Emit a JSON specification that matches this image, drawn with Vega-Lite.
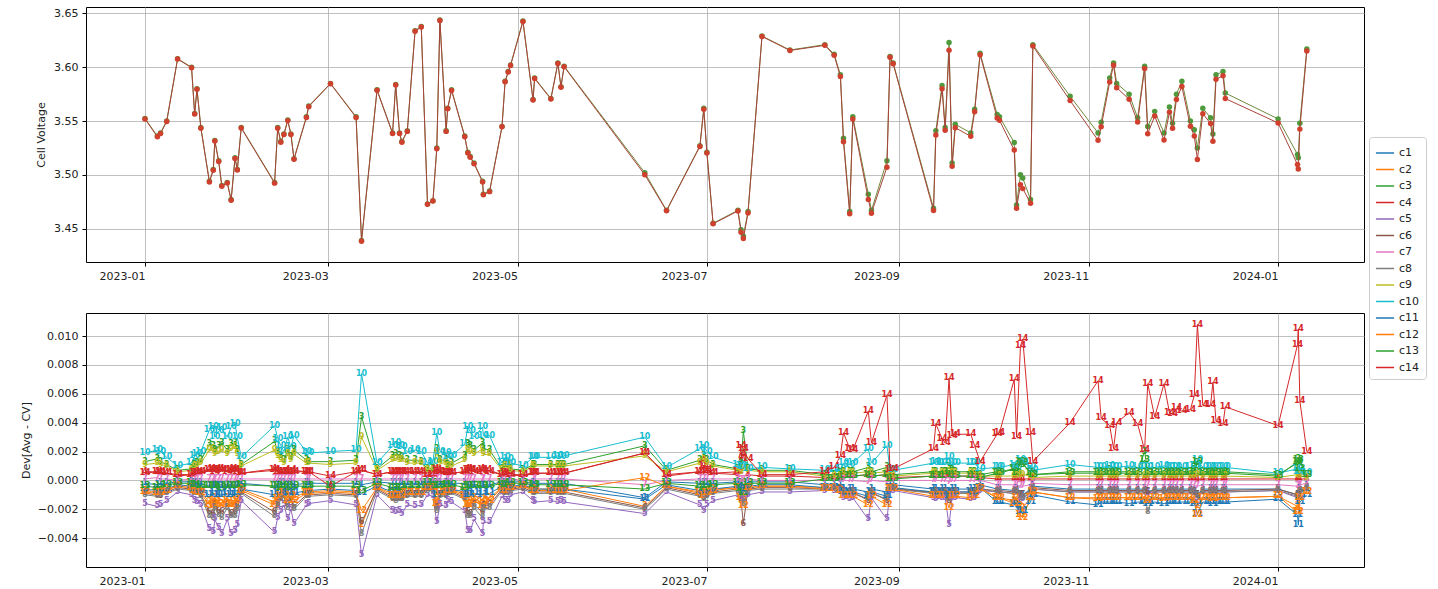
{
"$schema":"https://vega.github.io/schema/vega-lite/v6.json",
"padding":{"left":19,"top":6,"right":0,"bottom":0},
"spacing":30,
"config":{
"font":"DejaVu Sans",
"view":{"stroke":"#000","strokeWidth":1},
"axis":{"labelFont":"DejaVu Sans","labelFontSize":11,"labelColor":"#222","titleFont":"DejaVu Sans","titleFontSize":11,"titleFontWeight":"normal","titleColor":"#222","gridColor":"#b0b0b0","gridWidth":0.8,"domain":false,"tickColor":"#000","tickSize":4,"labelPadding":4},
"legend":{"labelFont":"DejaVu Sans","labelFontSize":11,"labelColor":"#222"}
},
"datasets":{"d":[
{"t":"2023-01-01","v":3.5524,"w":3.5519,"1":-0.0002,"2":-0.0007,"3":0.0013,"4":0.0006,"5":-0.0016,"6":-0.0009,"7":0.0001,"8":-0.001,"9":0.0011,"10":0.0019,"11":-0.0006,"12":-0.0008,"13":-0.0004,"14":0.0005},
{"t":"2023-01-05","v":3.536,"w":3.5354,"1":-0.0003,"2":-0.0008,"3":0.0015,"4":0.0006,"5":-0.0018,"6":-0.001,"7":0.0002,"8":-0.0011,"9":0.0012,"10":0.0021,"11":-0.0007,"12":-0.0009,"13":-0.0005,"14":0.0006},
{"t":"2023-01-06","v":3.539,"w":3.5384,"1":-0.0002,"2":-0.0008,"3":0.0013,"4":0.0005,"5":-0.0017,"6":-0.0011,"7":0.0001,"8":-0.001,"9":0.0011,"10":0.002,"11":-0.0006,"12":-0.0009,"13":-0.0004,"14":0.0006},
{"t":"2023-01-08","v":3.55,"w":3.5495,"1":-0.0002,"2":-0.0006,"3":0.0011,"4":0.0005,"5":-0.0014,"6":-0.0008,"7":0.0001,"8":-0.0009,"9":0.001,"10":0.0016,"11":-0.0006,"12":-0.0007,"13":-0.0003,"14":0.0005},
{"t":"2023-01-11T12:00","v":3.608,"w":3.6076,"1":-0.0001,"2":-0.0004,"3":0.0007,"4":0.0003,"5":-0.0008,"6":-0.0005,"7":0,"8":-0.0006,"9":0.0006,"10":0.001,"11":-0.0003,"12":-0.0004,"13":-0.0002,"14":0.0004},
{"t":"2023-01-16","v":3.6,"w":3.5996,"1":-0.0001,"2":-0.0005,"3":0.0008,"4":0.0004,"5":-0.001,"6":-0.0006,"7":0.0001,"8":-0.0007,"9":0.0007,"10":0.0012,"11":-0.0004,"12":-0.0005,"13":-0.0002,"14":0.0004},
{"t":"2023-01-17","v":3.557,"w":3.5565,"1":-0.0002,"2":-0.0006,"3":0.0011,"4":0.0005,"5":-0.0014,"6":-0.0008,"7":0.0001,"8":-0.0009,"9":0.001,"10":0.0017,"11":-0.0006,"12":-0.0007,"13":-0.0003,"14":0.0005},
{"t":"2023-01-17T18:00","v":3.58,"w":3.5795,"1":-0.0002,"2":-0.0007,"3":0.0012,"4":0.0005,"5":-0.0015,"6":-0.0008,"7":0.0001,"8":-0.0009,"9":0.001,"10":0.0018,"11":-0.0006,"12":-0.0008,"13":-0.0003,"14":0.0005},
{"t":"2023-01-19","v":3.544,"w":3.5434,"1":-0.0002,"2":-0.0008,"3":0.0014,"4":0.0006,"5":-0.0017,"6":-0.001,"7":0.0001,"8":-0.0011,"9":0.0012,"10":0.002,"11":-0.0007,"12":-0.0009,"13":-0.0004,"14":0.0006},
{"t":"2023-01-21T18:00","v":3.494,"w":3.4933,"1":-0.0004,"2":-0.0015,"3":0.0025,"4":0.0008,"5":-0.0034,"6":-0.0022,"7":0.0001,"8":-0.0025,"9":0.0021,"10":0.0035,"11":-0.001,"12":-0.0017,"13":-0.0004,"14":0.0007},
{"t":"2023-01-23","v":3.505,"w":3.5043,"1":-0.0004,"2":-0.0016,"3":0.0024,"4":0.0008,"5":-0.0036,"6":-0.0023,"7":0.0001,"8":-0.0026,"9":0.0022,"10":0.0037,"11":-0.001,"12":-0.0018,"13":-0.0004,"14":0.0007},
{"t":"2023-01-23T12:00","v":3.532,"w":3.5314,"1":-0.0003,"2":-0.0012,"3":0.0021,"4":0.0007,"5":-0.0027,"6":-0.0017,"7":0.0001,"8":-0.0019,"9":0.0018,"10":0.003,"11":-0.0009,"12":-0.0014,"13":-0.0004,"14":0.0006},
{"t":"2023-01-24T18:00","v":3.513,"w":3.5123,"1":-0.0004,"2":-0.0015,"3":0.0024,"4":0.0008,"5":-0.0033,"6":-0.0021,"7":0.0001,"8":-0.0024,"9":0.002,"10":0.0034,"11":-0.001,"12":-0.0016,"13":-0.0004,"14":0.0007},
{"t":"2023-01-25T18:00","v":3.49,"w":3.4893,"1":-0.0004,"2":-0.0016,"3":0.0026,"4":0.0008,"5":-0.0037,"6":-0.0022,"7":0.0001,"8":-0.0026,"9":0.0021,"10":0.0036,"11":-0.001,"12":-0.0017,"13":-0.0005,"14":0.0007},
{"t":"2023-01-27T12:00","v":3.493,"w":3.4924,"1":-0.0003,"2":-0.0012,"3":0.0021,"4":0.0007,"5":-0.0027,"6":-0.0017,"7":0.0001,"8":-0.0019,"9":0.0018,"10":0.003,"11":-0.0009,"12":-0.0014,"13":-0.0004,"14":0.0006},
{"t":"2023-01-28T18:00","v":3.477,"w":3.4763,"1":-0.0004,"2":-0.0016,"3":0.0025,"4":0.0008,"5":-0.0037,"6":-0.0023,"7":0.0001,"8":-0.0025,"9":0.0022,"10":0.0037,"11":-0.001,"12":-0.0017,"13":-0.0004,"14":0.0007},
{"t":"2023-01-30","v":3.516,"w":3.5153,"1":-0.0004,"2":-0.0015,"3":0.0026,"4":0.0008,"5":-0.0035,"6":-0.0022,"7":0.0001,"8":-0.0025,"9":0.0023,"10":0.0039,"11":-0.001,"12":-0.0017,"13":-0.0004,"14":0.0007},
{"t":"2023-01-30T18:00","v":3.505,"w":3.5044,"1":-0.0003,"2":-0.0013,"3":0.0021,"4":0.0007,"5":-0.0031,"6":-0.0018,"7":0.0001,"8":-0.002,"9":0.0018,"10":0.003,"11":-0.0009,"12":-0.0014,"13":-0.0004,"14":0.0006},
{"t":"2023-02-01","v":3.544,"w":3.5435,"1":-0.0002,"2":-0.0006,"3":0.0011,"4":0.0005,"5":-0.0014,"6":-0.0008,"7":0.0001,"8":-0.0009,"9":0.001,"10":0.0016,"11":-0.0006,"12":-0.0007,"13":-0.0003,"14":0.0005},
{"t":"2023-02-11T18:00","v":3.493,"w":3.4923,"1":-0.0004,"2":-0.0015,"3":0.0027,"4":0.0008,"5":-0.0036,"6":-0.0022,"7":0.0001,"8":-0.0025,"9":0.0021,"10":0.0038,"11":-0.001,"12":-0.0017,"13":-0.0004,"14":0.0007},
{"t":"2023-02-12T18:00","v":3.544,"w":3.5434,"1":-0.0003,"2":-0.0012,"3":0.002,"4":0.0007,"5":-0.0026,"6":-0.0016,"7":0.0001,"8":-0.0018,"9":0.0017,"10":0.0029,"11":-0.0009,"12":-0.0013,"13":-0.0004,"14":0.0006},
{"t":"2023-02-13T18:00","v":3.531,"w":3.5304,"1":-0.0002,"2":-0.0009,"3":0.0017,"4":0.0006,"5":-0.0021,"6":-0.0012,"7":0.0001,"8":-0.0013,"9":0.0014,"10":0.0024,"11":-0.0008,"12":-0.0011,"13":-0.0005,"14":0.0006},
{"t":"2023-02-14T18:00","v":3.538,"w":3.5374,"1":-0.0002,"2":-0.0008,"3":0.0014,"4":0.0006,"5":-0.0017,"6":-0.001,"7":0.0001,"8":-0.0011,"9":0.0012,"10":0.002,"11":-0.0007,"12":-0.0009,"13":-0.0004,"14":0.0006},
{"t":"2023-02-16","v":3.551,"w":3.5504,"1":-0.0003,"2":-0.0012,"3":0.0021,"4":0.0007,"5":-0.0027,"6":-0.0017,"7":0.0001,"8":-0.0019,"9":0.0018,"10":0.003,"11":-0.0009,"12":-0.0014,"13":-0.0004,"14":0.0006},
{"t":"2023-02-17","v":3.538,"w":3.5374,"1":-0.0002,"2":-0.0009,"3":0.0016,"4":0.0006,"5":-0.002,"6":-0.0012,"7":0.0001,"8":-0.0013,"9":0.0014,"10":0.0023,"11":-0.0008,"12":-0.0011,"13":-0.0005,"14":0.0006},
{"t":"2023-02-18","v":3.515,"w":3.5144,"1":-0.0003,"2":-0.0012,"3":0.0021,"4":0.0007,"5":-0.003,"6":-0.0018,"7":0.0001,"8":-0.002,"9":0.0018,"10":0.0031,"11":-0.0009,"12":-0.0014,"13":-0.0004,"14":0.0006},
{"t":"2023-02-22","v":3.554,"w":3.5534,"1":-0.0002,"2":-0.0008,"3":0.0014,"4":0.0006,"5":-0.0017,"6":-0.001,"7":0.0001,"8":-0.0011,"9":0.0012,"10":0.002,"11":-0.0007,"12":-0.0009,"13":-0.0004,"14":0.0006},
{"t":"2023-02-22T18:00","v":3.564,"w":3.5634,"1":-0.0002,"2":-0.0008,"3":0.0013,"4":0.0006,"5":-0.0016,"6":-0.001,"7":0.0001,"8":-0.0011,"9":0.0012,"10":0.0019,"11":-0.0007,"12":-0.0009,"13":-0.0004,"14":0.0006},
{"t":"2023-03-01T18:00","v":3.585,"w":3.5847,"1":-0.0002,"2":-0.0007,"3":0.0013,"4":-0.0004,"5":-0.0014,"6":-0.0009,"7":0.0001,"8":-0.001,"9":0.0011,"10":0.002,"11":-0.0006,"12":-0.0008,"13":-0.0004,"14":0.0003},
{"t":"2023-03-10","v":3.554,"w":3.5534,"1":-0.0002,"2":-0.0008,"3":0.0014,"4":0.0006,"5":-0.0017,"6":-0.001,"7":0.0001,"8":-0.0011,"9":0.0012,"10":0.0021,"11":-0.0007,"12":-0.0009,"13":-0.0004,"14":0.0006},
{"t":"2023-03-11T18:00","v":3.439,"w":3.4383,"1":-0.0003,"2":-0.0031,"3":0.0044,"4":0.0007,"5":-0.0052,"6":-0.0029,"7":0.0001,"8":-0.0037,"9":0.003,"10":0.0074,"11":-0.0009,"12":-0.0021,"13":-0.0007,"14":0.0007},
{"t":"2023-03-16T18:00","v":3.579,"w":3.5786,"1":-0.0001,"2":-0.0005,"3":0.0008,"4":0.0004,"5":-0.001,"6":-0.0006,"7":0.0001,"8":-0.0007,"9":0.0007,"10":0.0012,"11":-0.0004,"12":-0.0005,"13":-0.0002,"14":0.0004},
{"t":"2023-03-21T18:00","v":3.539,"w":3.5384,"1":-0.0002,"2":-0.0009,"3":0.0017,"4":0.0006,"5":-0.0021,"6":-0.0012,"7":0.0001,"8":-0.0013,"9":0.0014,"10":0.0024,"11":-0.0008,"12":-0.0011,"13":-0.0005,"14":0.0006},
{"t":"2023-03-22T18:00","v":3.584,"w":3.5834,"1":-0.0002,"2":-0.001,"3":0.0018,"4":0.0006,"5":-0.0022,"6":-0.0013,"7":0.0001,"8":-0.0014,"9":0.0015,"10":0.0026,"11":-0.0008,"12":-0.0011,"13":-0.0005,"14":0.0006},
{"t":"2023-03-24","v":3.539,"w":3.5384,"1":-0.0002,"2":-0.0009,"3":0.0017,"4":0.0006,"5":-0.0021,"6":-0.0012,"7":0.0001,"8":-0.0013,"9":0.0014,"10":0.0024,"11":-0.0008,"12":-0.0011,"13":-0.0005,"14":0.0006},
{"t":"2023-03-24T18:00","v":3.531,"w":3.5304,"1":-0.0002,"2":-0.0009,"3":0.0016,"4":0.0006,"5":-0.0023,"6":-0.0013,"7":0.0001,"8":-0.0013,"9":0.0014,"10":0.0023,"11":-0.0008,"12":-0.0011,"13":-0.0005,"14":0.0006},
{"t":"2023-03-26T12:00","v":3.541,"w":3.5404,"1":-0.0002,"2":-0.0008,"3":0.0014,"4":0.0006,"5":-0.0017,"6":-0.001,"7":0.0001,"8":-0.0011,"9":0.0012,"10":0.002,"11":-0.0007,"12":-0.0009,"13":-0.0004,"14":0.0006},
{"t":"2023-03-29","v":3.634,"w":3.6334,"1":-0.0002,"2":-0.0008,"3":0.0014,"4":0.0006,"5":-0.0018,"6":-0.001,"7":0.0001,"8":-0.0011,"9":0.0012,"10":0.0021,"11":-0.0007,"12":-0.0009,"13":-0.0004,"14":0.0006},
{"t":"2023-03-31","v":3.638,"w":3.6374,"1":-0.0002,"2":-0.0008,"3":0.0013,"4":0.0006,"5":-0.0017,"6":-0.001,"7":0.0001,"8":-0.0011,"9":0.0012,"10":0.002,"11":-0.0007,"12":-0.0009,"13":-0.0004,"14":0.0006},
{"t":"2023-04-02","v":3.473,"w":3.4726,"1":-0.0001,"2":-0.0005,"3":0.0008,"4":0.0004,"5":-0.001,"6":-0.0006,"7":0.0001,"8":-0.0007,"9":0.0007,"10":0.0012,"11":-0.0004,"12":-0.0005,"13":-0.0002,"14":0.0004},
{"t":"2023-04-03T18:00","v":3.476,"w":3.4756,"1":-0.0001,"2":-0.0005,"3":0.0008,"4":0.0004,"5":-0.0011,"6":-0.0006,"7":0.0001,"8":-0.0007,"9":0.0007,"10":0.0013,"11":-0.0004,"12":-0.0005,"13":-0.0002,"14":0.0004},
{"t":"2023-04-05","v":3.525,"w":3.5243,"1":-0.0003,"2":-0.0014,"3":0.0022,"4":0.0008,"5":-0.0029,"6":-0.0019,"7":0.0001,"8":-0.0021,"9":0.002,"10":0.0033,"11":-0.001,"12":-0.0016,"13":-0.0004,"14":0.0007},
{"t":"2023-04-06","v":3.644,"w":3.6434,"1":-0.0002,"2":-0.0008,"3":0.0014,"4":0.0006,"5":-0.0017,"6":-0.001,"7":0.0001,"8":-0.0011,"9":0.0012,"10":0.002,"11":-0.0007,"12":-0.0009,"13":-0.0004,"14":0.0006},
{"t":"2023-04-08","v":3.541,"w":3.5404,"1":-0.0002,"2":-0.0008,"3":0.0014,"4":0.0006,"5":-0.0018,"6":-0.001,"7":0.0001,"8":-0.0011,"9":0.0012,"10":0.0019,"11":-0.0007,"12":-0.0009,"13":-0.0004,"14":0.0006},
{"t":"2023-04-08T12:00","v":3.562,"w":3.5615,"1":-0.0002,"2":-0.0006,"3":0.0011,"4":0.0005,"5":-0.0014,"6":-0.0008,"7":0.0001,"8":-0.0009,"9":0.001,"10":0.0016,"11":-0.0006,"12":-0.0007,"13":-0.0003,"14":0.0005},
{"t":"2023-04-09T18:00","v":3.579,"w":3.5785,"1":-0.0002,"2":-0.0007,"3":0.0012,"4":0.0005,"5":-0.0015,"6":-0.0008,"7":0.0001,"8":-0.0009,"9":0.001,"10":0.0017,"11":-0.0006,"12":-0.0007,"13":-0.0003,"14":0.0005},
{"t":"2023-04-14","v":3.536,"w":3.5354,"1":-0.0002,"2":-0.0009,"3":0.0017,"4":0.0006,"5":-0.0021,"6":-0.0012,"7":0.0001,"8":-0.0013,"9":0.0014,"10":0.0025,"11":-0.0008,"12":-0.0011,"13":-0.0005,"14":0.0006},
{"t":"2023-04-15","v":3.521,"w":3.5203,"1":-0.0004,"2":-0.0015,"3":0.0025,"4":0.0008,"5":-0.0035,"6":-0.0022,"7":0.0001,"8":-0.0025,"9":0.0021,"10":0.0037,"11":-0.001,"12":-0.0017,"13":-0.0004,"14":0.0007},
{"t":"2023-04-15T18:00","v":3.517,"w":3.5163,"1":-0.0004,"2":-0.0016,"3":0.0024,"4":0.0008,"5":-0.0035,"6":-0.0023,"7":0.0001,"8":-0.0025,"9":0.002,"10":0.0034,"11":-0.001,"12":-0.0017,"13":-0.0004,"14":0.0007},
{"t":"2023-04-17","v":3.511,"w":3.5104,"1":-0.0003,"2":-0.0012,"3":0.0021,"4":0.0007,"5":-0.0027,"6":-0.0017,"7":0.0001,"8":-0.0019,"9":0.0018,"10":0.003,"11":-0.0009,"12":-0.0014,"13":-0.0004,"14":0.0006},
{"t":"2023-04-19T18:00","v":3.494,"w":3.4933,"1":-0.0004,"2":-0.0016,"3":0.0026,"4":0.0008,"5":-0.0037,"6":-0.0022,"7":0.0001,"8":-0.0026,"9":0.0022,"10":0.0037,"11":-0.001,"12":-0.0018,"13":-0.0004,"14":0.0007},
{"t":"2023-04-20","v":3.482,"w":3.4814,"1":-0.0003,"2":-0.0013,"3":0.0022,"4":0.0007,"5":-0.0029,"6":-0.0018,"7":0.0001,"8":-0.002,"9":0.0018,"10":0.0031,"11":-0.0009,"12":-0.0015,"13":-0.0004,"14":0.0006},
{"t":"2023-04-22","v":3.485,"w":3.4844,"1":-0.0003,"2":-0.0012,"3":0.0021,"4":0.0007,"5":-0.0029,"6":-0.0017,"7":0.0001,"8":-0.0019,"9":0.0018,"10":0.0031,"11":-0.0009,"12":-0.0014,"13":-0.0004,"14":0.0006},
{"t":"2023-04-26","v":3.545,"w":3.5446,"1":-0.0001,"2":-0.0005,"3":0.0008,"4":0.0004,"5":-0.0011,"6":-0.0006,"7":0.0001,"8":-0.0007,"9":0.0007,"10":0.0012,"11":-0.0004,"12":-0.0005,"13":-0.0002,"14":0.0004},
{"t":"2023-04-27","v":3.587,"w":3.5865,"1":-0.0002,"2":-0.0006,"3":0.0011,"4":0.0005,"5":-0.0014,"6":-0.0008,"7":0.0001,"8":-0.0009,"9":0.001,"10":0.0016,"11":-0.0006,"12":-0.0007,"13":-0.0003,"14":0.0005},
{"t":"2023-04-28","v":3.596,"w":3.5955,"1":-0.0002,"2":-0.0006,"3":0.0011,"4":0.0005,"5":-0.0014,"6":-0.0008,"7":0.0001,"8":-0.0009,"9":0.001,"10":0.0015,"11":-0.0006,"12":-0.0007,"13":-0.0003,"14":0.0005},
{"t":"2023-04-28T18:00","v":3.602,"w":3.6016,"1":-0.0001,"2":-0.0005,"3":0.0008,"4":0.0004,"5":-0.001,"6":-0.0006,"7":0.0001,"8":-0.0007,"9":0.0007,"10":0.0012,"11":-0.0004,"12":-0.0005,"13":-0.0002,"14":0.0004},
{"t":"2023-05-02T18:00","v":3.643,"w":3.6426,"1":-0.0001,"2":-0.0004,"3":0.0007,"4":0.0003,"5":-0.0008,"6":-0.0005,"7":0,"8":-0.0006,"9":0.0006,"10":0.001,"11":-0.0003,"12":-0.0004,"13":-0.0002,"14":0.0004},
{"t":"2023-05-06","v":3.57,"w":3.5695,"1":-0.0002,"2":-0.0006,"3":0.0011,"4":0.0005,"5":-0.0014,"6":-0.0008,"7":0.0001,"8":-0.0009,"9":0.001,"10":0.0016,"11":-0.0006,"12":-0.0007,"13":-0.0003,"14":0.0005},
{"t":"2023-05-06T12:00","v":3.59,"w":3.5895,"1":-0.0002,"2":-0.0006,"3":0.0011,"4":0.0005,"5":-0.0015,"6":-0.0008,"7":0.0001,"8":-0.0009,"9":0.001,"10":0.0016,"11":-0.0006,"12":-0.0007,"13":-0.0003,"14":0.0005},
{"t":"2023-05-11T18:00","v":3.571,"w":3.5705,"1":-0.0002,"2":-0.0006,"3":0.0011,"4":0.0005,"5":-0.0014,"6":-0.0008,"7":0.0001,"8":-0.0009,"9":0.001,"10":0.0016,"11":-0.0006,"12":-0.0007,"13":-0.0003,"14":0.0005},
{"t":"2023-05-14","v":3.604,"w":3.6035,"1":-0.0002,"2":-0.0006,"3":0.0011,"4":0.0005,"5":-0.0015,"6":-0.0008,"7":0.0001,"8":-0.0009,"9":0.001,"10":0.0017,"11":-0.0006,"12":-0.0007,"13":-0.0003,"14":0.0005},
{"t":"2023-05-15","v":3.582,"w":3.5815,"1":-0.0002,"2":-0.0006,"3":0.0011,"4":0.0005,"5":-0.0014,"6":-0.0008,"7":0.0001,"8":-0.0009,"9":0.001,"10":0.0016,"11":-0.0006,"12":-0.0007,"13":-0.0003,"14":0.0005},
{"t":"2023-05-16","v":3.601,"w":3.6005,"1":-0.0002,"2":-0.0006,"3":0.0011,"4":0.0005,"5":-0.0015,"6":-0.0008,"7":0.0001,"8":-0.0009,"9":0.001,"10":0.0017,"11":-0.0006,"12":-0.0007,"13":-0.0003,"14":0.0005},
{"t":"2023-06-11","v":3.502,"w":3.5001,"1":-0.0012,"2":-0.0018,"3":0.0024,"4":0.0019,"5":-0.0023,"6":-0.0019,"7":-0.0003,"8":-0.002,"9":0.0017,"10":0.003,"11":-0.0013,"12":0.0002,"13":-0.0006,"14":0.0019},
{"t":"2023-06-18","v":3.467,"w":3.4666,"1":-0.0001,"2":-0.0004,"3":0.0007,"4":0.0003,"5":-0.0008,"6":-0.0005,"7":0,"8":-0.0006,"9":0.0006,"10":0.0009,"11":-0.0003,"12":-0.0004,"13":-0.0002,"14":0.0004},
{"t":"2023-06-28T18:00","v":3.527,"w":3.5264,"1":-0.0002,"2":-0.0008,"3":0.0014,"4":0.0006,"5":-0.0017,"6":-0.001,"7":0.0001,"8":-0.0011,"9":0.0012,"10":0.0022,"11":-0.0007,"12":-0.0009,"13":-0.0004,"14":0.0006},
{"t":"2023-06-30","v":3.562,"w":3.561,"1":-0.0002,"2":-0.0009,"3":0.0017,"4":0.0014,"5":-0.0021,"6":-0.0012,"7":0.0001,"8":-0.0013,"9":0.0014,"10":0.0024,"11":-0.0008,"12":-0.0011,"13":-0.0005,"14":0.001},
{"t":"2023-07-01","v":3.521,"w":3.5203,"1":-0.0002,"2":-0.0008,"3":0.0014,"4":0.0006,"5":-0.0017,"6":-0.001,"7":0.0001,"8":-0.0011,"9":0.0012,"10":0.002,"11":-0.0007,"12":-0.0009,"13":-0.0004,"14":0.0007},
{"t":"2023-07-03","v":3.455,"w":3.4545,"1":-0.0002,"2":-0.0006,"3":0.0011,"4":0.0005,"5":-0.0014,"6":-0.0008,"7":0.0001,"8":-0.0009,"9":0.001,"10":0.0016,"11":-0.0006,"12":-0.0007,"13":-0.0003,"14":0.0005},
{"t":"2023-07-11","v":3.467,"w":3.4664,"1":-0.0001,"2":-0.0005,"3":0.0008,"4":0.0004,"5":-0.001,"6":-0.0006,"7":0.0001,"8":-0.0007,"9":0.0007,"10":0.0011,"11":-0.0004,"12":-0.0005,"13":-0.0002,"14":0.0006},
{"t":"2023-07-12","v":3.449,"w":3.4466,"1":-0.0005,"2":-0.0009,"3":0.0012,"4":0.0016,"5":-0.0011,"6":-0.0014,"7":0,"8":-0.001,"9":0.0006,"10":0.001,"11":-0.0006,"12":-0.0012,"13":-0.0006,"14":0.0024},
{"t":"2023-07-12T18:00","v":3.443,"w":3.4408,"1":-0.0006,"2":-0.0012,"3":0.0034,"4":0.0018,"5":-0.0014,"6":-0.003,"7":0,"8":-0.0016,"9":0.0008,"10":0.0009,"11":-0.0008,"12":-0.0018,"13":-0.0009,"14":0.0022},
{"t":"2023-07-14T06:00","v":3.466,"w":3.4645,"1":-0.0001,"2":-0.0005,"3":0.0008,"4":0.0004,"5":-0.001,"6":-0.0006,"7":0.0001,"8":-0.0007,"9":0.0007,"10":0.0008,"11":-0.0004,"12":-0.0005,"13":-0.0002,"14":0.0015},
{"t":"2023-07-18T18:00","v":3.629,"w":3.6286,"1":-0.0001,"2":-0.0004,"3":0.0007,"4":0.0003,"5":-0.0008,"6":-0.0005,"7":0,"8":-0.0006,"9":0.0006,"10":0.0009,"11":-0.0003,"12":-0.0004,"13":-0.0002,"14":0.0004},
{"t":"2023-07-27T18:00","v":3.616,"w":3.6156,"1":-0.0001,"2":-0.0004,"3":0.0007,"4":0.0003,"5":-0.0008,"6":-0.0005,"7":0,"8":-0.0006,"9":0.0006,"10":0.0008,"11":-0.0003,"12":-0.0004,"13":-0.0002,"14":0.0004},
{"t":"2023-08-08","v":3.621,"w":3.6204,"1":-0.0003,"2":-0.0005,"3":0.0004,"4":0.0002,"5":-0.0007,"6":-0.0006,"7":0,"8":-0.0006,"9":0.0003,"10":0.0007,"11":-0.0005,"12":-0.0006,"13":0.0001,"14":0.0006},
{"t":"2023-08-11","v":3.612,"w":3.6111,"1":-0.0003,"2":-0.0005,"3":0.0004,"4":0.0002,"5":-0.0007,"6":-0.0006,"7":0,"8":-0.0006,"9":0.0003,"10":0.0007,"11":-0.0005,"12":-0.0006,"13":0.0001,"14":0.0009},
{"t":"2023-08-13","v":3.593,"w":3.5913,"1":-0.0003,"2":-0.0006,"3":0.0005,"4":0.0002,"5":-0.0008,"6":-0.0006,"7":0,"8":-0.0007,"9":0.0003,"10":0.0008,"11":-0.0006,"12":-0.0007,"13":0.0002,"14":0.0017},
{"t":"2023-08-14","v":3.534,"w":3.5307,"1":-0.0006,"2":-0.0009,"3":0.0006,"4":0.0003,"5":-0.0012,"6":-0.0008,"7":0,"8":-0.0009,"9":0.0005,"10":0.0012,"11":-0.0008,"12":-0.0011,"13":0.0003,"14":0.0033},
{"t":"2023-08-16","v":3.466,"w":3.4638,"1":-0.0006,"2":-0.0009,"3":0.0006,"4":0.0003,"5":-0.0013,"6":-0.0008,"7":0,"8":-0.0009,"9":0.0005,"10":0.0011,"11":-0.0009,"12":-0.0011,"13":0.0003,"14":0.0022},
{"t":"2023-08-17","v":3.554,"w":3.5519,"1":-0.0006,"2":-0.0009,"3":0.0006,"4":0.0003,"5":-0.0012,"6":-0.0008,"7":0,"8":-0.0009,"9":0.0005,"10":0.0012,"11":-0.0008,"12":-0.0011,"13":0.0003,"14":0.0021},
{"t":"2023-08-22","v":3.482,"w":3.4772,"1":-0.0008,"2":-0.0013,"3":0.0009,"4":0.0004,"5":-0.0027,"6":-0.0014,"7":-0.0001,"8":-0.0013,"9":0.0006,"10":0.0022,"11":-0.0011,"12":-0.0017,"13":0.0004,"14":0.0048},
{"t":"2023-08-23","v":3.467,"w":3.4644,"1":-0.0006,"2":-0.0009,"3":0.0006,"4":0.0003,"5":-0.0012,"6":-0.0008,"7":0,"8":-0.0009,"9":0.0005,"10":0.0012,"11":-0.0008,"12":-0.0011,"13":0.0003,"14":0.0026},
{"t":"2023-08-28","v":3.513,"w":3.5071,"1":-0.0008,"2":-0.0013,"3":0.0009,"4":0.0004,"5":-0.0027,"6":-0.0014,"7":-0.0001,"8":-0.0013,"9":0.0006,"10":0.0024,"11":-0.0011,"12":-0.0017,"13":0.0004,"14":0.0059},
{"t":"2023-08-29","v":3.61,"w":3.6093,"1":-0.0003,"2":-0.0005,"3":0.0004,"4":0.0002,"5":-0.0007,"6":-0.0006,"7":0,"8":-0.0006,"9":0.0003,"10":0.0007,"11":-0.0005,"12":-0.0006,"13":0.0001,"14":0.0007},
{"t":"2023-08-30","v":3.604,"w":3.6032,"1":-0.0003,"2":-0.0005,"3":0.0004,"4":0.0002,"5":-0.0007,"6":-0.0006,"7":0,"8":-0.0006,"9":0.0003,"10":0.0007,"11":-0.0005,"12":-0.0006,"13":0.0001,"14":0.0008},
{"t":"2023-09-12","v":3.469,"w":3.4668,"1":-0.0006,"2":-0.0009,"3":0.0006,"4":0.0003,"5":-0.0012,"6":-0.0008,"7":0,"8":-0.0009,"9":0.0005,"10":0.0012,"11":-0.0008,"12":-0.0011,"13":0.0003,"14":0.0022},
{"t":"2023-09-12T18:00","v":3.541,"w":3.5371,"1":-0.0006,"2":-0.0009,"3":0.0006,"4":0.0003,"5":-0.0013,"6":-0.0008,"7":0,"8":-0.0009,"9":0.0005,"10":0.0013,"11":-0.0008,"12":-0.0011,"13":0.0003,"14":0.0039},
{"t":"2023-09-14T18:00","v":3.583,"w":3.5801,"1":-0.0006,"2":-0.0009,"3":0.0006,"4":0.0003,"5":-0.0012,"6":-0.0008,"7":0,"8":-0.0009,"9":0.0005,"10":0.0012,"11":-0.0008,"12":-0.0011,"13":0.0003,"14":0.0029},
{"t":"2023-09-15T18:00","v":3.544,"w":3.5414,"1":-0.0006,"2":-0.0009,"3":0.0006,"4":0.0003,"5":-0.0012,"6":-0.0008,"7":0,"8":-0.0009,"9":0.0005,"10":0.0012,"11":-0.0008,"12":-0.0011,"13":0.0003,"14":0.0026},
{"t":"2023-09-17","v":3.623,"w":3.6159,"1":-0.0008,"2":-0.0013,"3":0.0009,"4":0.0004,"5":-0.0031,"6":-0.0014,"7":-0.0001,"8":-0.0013,"9":0.0006,"10":0.0016,"11":-0.0011,"12":-0.0019,"13":0.0006,"14":0.0071},
{"t":"2023-09-18","v":3.511,"w":3.5079,"1":-0.0006,"2":-0.0009,"3":0.0007,"4":0.0003,"5":-0.0012,"6":-0.0008,"7":0,"8":-0.0009,"9":0.0005,"10":0.0012,"11":-0.0008,"12":-0.0011,"13":0.0004,"14":0.0031},
{"t":"2023-09-19","v":3.547,"w":3.5438,"1":-0.0006,"2":-0.0009,"3":0.0006,"4":0.0003,"5":-0.0012,"6":-0.0008,"7":0,"8":-0.0009,"9":0.0005,"10":0.0012,"11":-0.0008,"12":-0.0011,"13":0.0003,"14":0.0032},
{"t":"2023-09-24","v":3.539,"w":3.5358,"1":-0.0006,"2":-0.0009,"3":0.0006,"4":0.0003,"5":-0.0013,"6":-0.0008,"7":0,"8":-0.0009,"9":0.0005,"10":0.0012,"11":-0.0008,"12":-0.0012,"13":0.0003,"14":0.0032},
{"t":"2023-09-25T06:00","v":3.561,"w":3.5586,"1":-0.0006,"2":-0.0009,"3":0.0006,"4":0.0003,"5":-0.0012,"6":-0.0008,"7":0,"8":-0.0009,"9":0.0005,"10":0.0012,"11":-0.0008,"12":-0.0011,"13":0.0003,"14":0.0024},
{"t":"2023-09-27","v":3.613,"w":3.6117,"1":-0.0003,"2":-0.0005,"3":0.0004,"4":0.0002,"5":-0.0007,"6":-0.0006,"7":0,"8":-0.0006,"9":0.0003,"10":0.0008,"11":-0.0005,"12":-0.0006,"13":0.0002,"14":0.0013},
{"t":"2023-10-02T12:00","v":3.556,"w":3.5528,"1":-0.0006,"2":-0.0012,"3":0.0006,"4":0.0001,"5":-0.0008,"6":-0.0007,"7":-0.0003,"8":-0.0008,"9":0.0003,"10":0.0009,"11":-0.0015,"12":-0.0012,"13":0.0005,"14":0.0032},
{"t":"2023-10-03T06:00","v":3.554,"w":3.5507,"1":-0.0006,"2":-0.0012,"3":0.0006,"4":0.0001,"5":-0.0008,"6":-0.0007,"7":-0.0003,"8":-0.0008,"9":0.0003,"10":0.0009,"11":-0.0015,"12":-0.0012,"13":0.0005,"14":0.0033},
{"t":"2023-10-08","v":3.53,"w":3.523,"1":-0.0007,"2":-0.0014,"3":0.0008,"4":0.0001,"5":-0.0009,"6":-0.0008,"7":-0.0003,"8":-0.0009,"9":0.0003,"10":0.0011,"11":-0.0017,"12":-0.0016,"13":0.0008,"14":0.007},
{"t":"2023-10-08T18:00","v":3.472,"w":3.469,"1":-0.0006,"2":-0.0012,"3":0.0006,"4":0.0001,"5":-0.0008,"6":-0.0007,"7":-0.0003,"8":-0.0008,"9":0.0003,"10":0.0009,"11":-0.0015,"12":-0.0012,"13":0.0005,"14":0.003},
{"t":"2023-10-10","v":3.5,"w":3.4907,"1":-0.001,"2":-0.0018,"3":0.0012,"4":0.0001,"5":-0.0012,"6":-0.001,"7":-0.0004,"8":-0.0011,"9":0.0004,"10":0.0014,"11":-0.0022,"12":-0.0024,"13":0.0013,"14":0.0093},
{"t":"2023-10-10T18:00","v":3.497,"w":3.4872,"1":-0.001,"2":-0.0019,"3":0.0011,"4":0.0001,"5":-0.0013,"6":-0.001,"7":-0.0004,"8":-0.0012,"9":0.0004,"10":0.0013,"11":-0.0021,"12":-0.0026,"13":0.0012,"14":0.0098},
{"t":"2023-10-13T06:00","v":3.477,"w":3.4737,"1":-0.0006,"2":-0.0012,"3":0.0006,"4":0.0001,"5":-0.0008,"6":-0.0007,"7":-0.0003,"8":-0.0008,"9":0.0003,"10":0.0009,"11":-0.0015,"12":-0.0012,"13":0.0005,"14":0.0033},
{"t":"2023-10-14","v":3.621,"w":3.6197,"1":-0.0004,"2":-0.0008,"3":0.0004,"4":0.0001,"5":-0.0006,"6":-0.0005,"7":-0.0002,"8":-0.0006,"9":0.0002,"10":0.0007,"11":-0.001,"12":-0.0008,"13":0.0004,"14":0.0013},
{"t":"2023-10-26","v":3.573,"w":3.569,"1":-0.0006,"2":-0.0012,"3":0.0006,"4":0.0001,"5":-0.0008,"6":-0.0007,"7":-0.0003,"8":-0.0008,"9":0.0003,"10":0.0011,"11":-0.0015,"12":-0.0012,"13":0.0005,"14":0.004},
{"t":"2023-11-04","v":3.539,"w":3.5321,"1":-0.0006,"2":-0.0012,"3":0.0006,"4":0.0001,"5":-0.0008,"6":-0.0007,"7":-0.0003,"8":-0.0008,"9":0.0003,"10":0.0009,"11":-0.0017,"12":-0.0013,"13":0.0005,"14":0.0069},
{"t":"2023-11-05","v":3.549,"w":3.5447,"1":-0.0006,"2":-0.0012,"3":0.0006,"4":0.0001,"5":-0.0008,"6":-0.0007,"7":-0.0003,"8":-0.0008,"9":0.0003,"10":0.0009,"11":-0.0015,"12":-0.0012,"13":0.0005,"14":0.0043},
{"t":"2023-11-07T18:00","v":3.59,"w":3.5862,"1":-0.0006,"2":-0.0012,"3":0.0007,"4":0.0001,"5":-0.0008,"6":-0.0007,"7":-0.0003,"8":-0.0008,"9":0.0003,"10":0.001,"11":-0.0015,"12":-0.0012,"13":0.0005,"14":0.0038},
{"t":"2023-11-09","v":3.604,"w":3.6018,"1":-0.0006,"2":-0.0012,"3":0.0006,"4":0.0001,"5":-0.0008,"6":-0.0007,"7":-0.0003,"8":-0.0008,"9":0.0003,"10":0.0009,"11":-0.0015,"12":-0.0012,"13":0.0005,"14":0.0022},
{"t":"2023-11-10","v":3.585,"w":3.581,"1":-0.0006,"2":-0.0012,"3":0.0006,"4":0.0001,"5":-0.0008,"6":-0.0007,"7":-0.0003,"8":-0.0008,"9":0.0003,"10":0.0009,"11":-0.0015,"12":-0.0012,"13":0.0005,"14":0.004},
{"t":"2023-11-14","v":3.575,"w":3.5703,"1":-0.0006,"2":-0.0012,"3":0.0006,"4":0.0001,"5":-0.0008,"6":-0.0007,"7":-0.0003,"8":-0.0008,"9":0.0003,"10":0.001,"11":-0.0016,"12":-0.0012,"13":0.0005,"14":0.0047},
{"t":"2023-11-16T18:00","v":3.553,"w":3.5491,"1":-0.0006,"2":-0.0012,"3":0.0006,"4":0.0001,"5":-0.0008,"6":-0.0007,"7":-0.0003,"8":-0.0008,"9":0.0003,"10":0.0009,"11":-0.0015,"12":-0.0012,"13":0.0005,"14":0.0039},
{"t":"2023-11-19","v":3.601,"w":3.5989,"1":-0.0006,"2":-0.0012,"3":0.002,"4":0.0001,"5":-0.0008,"6":-0.0007,"7":-0.0003,"8":-0.0008,"9":0.0003,"10":0.0009,"11":-0.0015,"12":-0.0012,"13":0.0014,"14":0.0021},
{"t":"2023-11-20","v":3.545,"w":3.5383,"1":-0.0008,"2":-0.0013,"3":0.0006,"4":0.0001,"5":-0.0009,"6":-0.0008,"7":-0.0003,"8":-0.0022,"9":0.0003,"10":0.0009,"11":-0.0016,"12":-0.0014,"13":0.0005,"14":0.0067},
{"t":"2023-11-22T06:00","v":3.559,"w":3.5546,"1":-0.0006,"2":-0.0012,"3":0.0006,"4":0.0001,"5":-0.0008,"6":-0.0007,"7":-0.0003,"8":-0.0008,"9":0.0003,"10":0.0009,"11":-0.0015,"12":-0.0012,"13":0.0005,"14":0.0044},
{"t":"2023-11-25T06:00","v":3.539,"w":3.5323,"1":-0.0006,"2":-0.0012,"3":0.0006,"4":0.0001,"5":-0.0008,"6":-0.0007,"7":-0.0003,"8":-0.0008,"9":0.0003,"10":0.001,"11":-0.0016,"12":-0.0013,"13":0.0005,"14":0.0067},
{"t":"2023-11-27","v":3.563,"w":3.5583,"1":-0.0006,"2":-0.0012,"3":0.0006,"4":0.0001,"5":-0.0008,"6":-0.0007,"7":-0.0003,"8":-0.0008,"9":0.0003,"10":0.0009,"11":-0.0015,"12":-0.0012,"13":0.0005,"14":0.0047},
{"t":"2023-11-28","v":3.548,"w":3.5434,"1":-0.0006,"2":-0.0012,"3":0.0006,"4":0.0001,"5":-0.0008,"6":-0.0007,"7":-0.0003,"8":-0.0008,"9":0.0003,"10":0.0009,"11":-0.0015,"12":-0.0012,"13":0.0005,"14":0.0046},
{"t":"2023-11-29T06:00","v":3.575,"w":3.57,"1":-0.0006,"2":-0.0012,"3":0.0006,"4":0.0001,"5":-0.0008,"6":-0.0007,"7":-0.0003,"8":-0.0008,"9":0.0003,"10":0.0009,"11":-0.0015,"12":-0.0012,"13":0.0005,"14":0.005},
{"t":"2023-12-01","v":3.587,"w":3.5822,"1":-0.0006,"2":-0.0012,"3":0.0006,"4":0.0001,"5":-0.0008,"6":-0.0007,"7":-0.0003,"8":-0.0008,"9":0.0003,"10":0.0009,"11":-0.0015,"12":-0.0012,"13":0.0005,"14":0.0048},
{"t":"2023-12-03T18:00","v":3.55,"w":3.5451,"1":-0.0006,"2":-0.0012,"3":0.0006,"4":0.0001,"5":-0.0008,"6":-0.0007,"7":-0.0003,"8":-0.0008,"9":0.0003,"10":0.0009,"11":-0.0015,"12":-0.0012,"13":0.0005,"14":0.0049},
{"t":"2023-12-05","v":3.542,"w":3.5361,"1":-0.0007,"2":-0.0013,"3":0.0007,"4":0.0001,"5":-0.0009,"6":-0.0008,"7":-0.0003,"8":-0.0009,"9":0.0003,"10":0.001,"11":-0.0016,"12":-0.0014,"13":0.0006,"14":0.0059},
{"t":"2023-12-06","v":3.525,"w":3.5142,"1":-0.001,"2":-0.0018,"3":0.0012,"4":0.0001,"5":-0.0012,"6":-0.001,"7":-0.0004,"8":-0.0011,"9":0.0004,"10":0.0014,"11":-0.0023,"12":-0.0024,"13":0.0013,"14":0.0108},
{"t":"2023-12-07T18:00","v":3.562,"w":3.5568,"1":-0.0006,"2":-0.0012,"3":0.0006,"4":0.0001,"5":-0.0008,"6":-0.0007,"7":-0.0003,"8":-0.0008,"9":0.0003,"10":0.0009,"11":-0.0015,"12":-0.0012,"13":0.0005,"14":0.0052},
{"t":"2023-12-10T06:00","v":3.553,"w":3.5478,"1":-0.0006,"2":-0.0012,"3":0.0006,"4":0.0001,"5":-0.0008,"6":-0.0007,"7":-0.0003,"8":-0.0008,"9":0.0003,"10":0.0009,"11":-0.0015,"12":-0.0012,"13":0.0005,"14":0.0052},
{"t":"2023-12-11","v":3.538,"w":3.5312,"1":-0.0006,"2":-0.0013,"3":0.0006,"4":0.0001,"5":-0.0008,"6":-0.0007,"7":-0.0003,"8":-0.0008,"9":0.0003,"10":0.0009,"11":-0.0016,"12":-0.0013,"13":0.0005,"14":0.0068},
{"t":"2023-12-12","v":3.593,"w":3.5889,"1":-0.0006,"2":-0.0012,"3":0.0006,"4":0.0001,"5":-0.0008,"6":-0.0007,"7":-0.0003,"8":-0.0008,"9":0.0003,"10":0.0009,"11":-0.0015,"12":-0.0012,"13":0.0005,"14":0.0041},
{"t":"2023-12-14T06:00","v":3.596,"w":3.5921,"1":-0.0006,"2":-0.0012,"3":0.0006,"4":0.0001,"5":-0.0008,"6":-0.0007,"7":-0.0003,"8":-0.0008,"9":0.0003,"10":0.0009,"11":-0.0015,"12":-0.0012,"13":0.0005,"14":0.0039},
{"t":"2023-12-15","v":3.576,"w":3.5709,"1":-0.0006,"2":-0.0012,"3":0.0006,"4":0.0001,"5":-0.0008,"6":-0.0007,"7":-0.0003,"8":-0.0008,"9":0.0003,"10":0.0009,"11":-0.0015,"12":-0.0012,"13":0.0005,"14":0.0051},
{"t":"2024-01-01","v":3.552,"w":3.5482,"1":-0.0006,"2":-0.0011,"3":0.0004,"4":0.0001,"5":-0.0007,"6":-0.0006,"7":-0.0003,"8":-0.0007,"9":0.0002,"10":0.0005,"11":-0.0013,"12":-0.0011,"13":0.0003,"14":0.0038},
{"t":"2024-01-07T06:00","v":3.519,"w":3.5096,"1":-0.001,"2":-0.0018,"3":0.0012,"4":0.0001,"5":-0.0012,"6":-0.001,"7":-0.0004,"8":-0.0011,"9":0.0004,"10":0.0008,"11":-0.0024,"12":-0.0022,"13":0.0013,"14":0.0094},
{"t":"2024-01-07T12:00","v":3.516,"w":3.5055,"1":-0.0011,"2":-0.0019,"3":0.0015,"4":0.0001,"5":-0.0013,"6":-0.0011,"7":-0.0004,"8":-0.0012,"9":0.0004,"10":0.0006,"11":-0.0031,"12":-0.0022,"13":0.0014,"14":0.0105},
{"t":"2024-01-08","v":3.548,"w":3.5425,"1":-0.0006,"2":-0.0012,"3":0.0013,"4":0.0001,"5":-0.0008,"6":-0.0007,"7":-0.0003,"8":-0.0008,"9":0.0003,"10":0.0006,"11":-0.0015,"12":-0.0012,"13":0.0008,"14":0.0055},
{"t":"2024-01-10T06:00","v":3.617,"w":3.615,"1":-0.0004,"2":-0.0008,"3":0.0004,"4":0.0001,"5":-0.0006,"6":-0.0005,"7":-0.0002,"8":-0.0006,"9":0.0002,"10":0.0005,"11":-0.001,"12":-0.0008,"13":0.0004,"14":0.002}
]},
"vconcat":[
{
"width":1278,"height":255,
"data":{"name":"d"},
"encoding":{"x":{"field":"t","type":"temporal","scale":{"domain":[{"year":2022,"month":12,"date":13},{"year":2024,"month":1,"date":28,"hours":16}],"nice":false},"axis":{"title":null,"format":"%Y-%m","labelAlign":"right","labelOverlap":false,"labelFlush":false,"values":[{"year":2023,"month":1,"date":1},{"year":2023,"month":3,"date":1},{"year":2023,"month":5,"date":1},{"year":2023,"month":7,"date":1},{"year":2023,"month":9,"date":1},{"year":2023,"month":11,"date":1},{"year":2024,"month":1,"date":1}]}}},
"layer":[
{"mark":{"type":"line","color":"#6f8a3c","strokeWidth":1},"encoding":{"y":{"field":"v","type":"quantitative","scale":{"domain":[3.419,3.656],"nice":false,"zero":false},"axis":{"title":"Cell Voltage","values":[3.45,3.5,3.55,3.6,3.65],"format":".2f","titlePadding":7}}}},
{"mark":{"type":"point","filled":true,"color":"#4f9a3c","size":30,"opacity":1},"encoding":{"y":{"field":"v","type":"quantitative"}}},
{"mark":{"type":"line","color":"#a8443a","strokeWidth":1},"encoding":{"y":{"field":"w","type":"quantitative"}}},
{"mark":{"type":"point","filled":true,"color":"#d0402f","size":30,"opacity":1},"encoding":{"y":{"field":"w","type":"quantitative"}}}
]
},
{
"width":1278,"height":254,
"data":{"name":"d"},
"transform":[{"fold":["1","2","3","4","5","6","7","8","9","10","11","12","13","14"],"as":["c","dev"]}],
"encoding":{
"x":{"field":"t","type":"temporal","scale":{"domain":[{"year":2022,"month":12,"date":13},{"year":2024,"month":1,"date":28,"hours":16}],"nice":false},"axis":{"title":null,"format":"%Y-%m","labelAlign":"right","labelOverlap":false,"labelFlush":false,"values":[{"year":2023,"month":1,"date":1},{"year":2023,"month":3,"date":1},{"year":2023,"month":5,"date":1},{"year":2023,"month":7,"date":1},{"year":2023,"month":9,"date":1},{"year":2023,"month":11,"date":1},{"year":2024,"month":1,"date":1}]}},
"y":{"field":"dev","type":"quantitative","scale":{"domain":[-0.006,0.0116],"nice":false,"zero":false},"axis":{"title":"Dev[Avg - CV]","values":[-0.004,-0.002,0,0.002,0.004,0.006,0.008,0.01],"format":".3f","titlePadding":6}},
"color":{"field":"c","type":"nominal","scale":{"domain":["1","2","3","4","5","6","7","8","9","10","11","12","13","14"],"range":["#1f77b4","#ff7f0e","#2ca02c","#d62728","#9467bd","#8c564b","#e377c2","#7f7f7f","#bcbd22","#17becf","#1f77b4","#ff7f0e","#2ca02c","#d62728"]},"legend":{"title":null,"orient":"none","legendX":1283,"legendY":130,"labelExpr":"'c' + datum.label","symbolType":"stroke","symbolStrokeWidth":1.5,"symbolSize":330,"rowPadding":1.5,"padding":6,"strokeColor":"#cccccc","fillColor":"#ffffff","cornerRadius":3,"labelFontSize":11}}
},
"layer":[
{"mark":{"type":"line","strokeWidth":1},"encoding":{}},
{"mark":{"type":"text","fontSize":8,"fontWeight":"bold"},"encoding":{"text":{"field":"c"}}}
]
}
]
}
